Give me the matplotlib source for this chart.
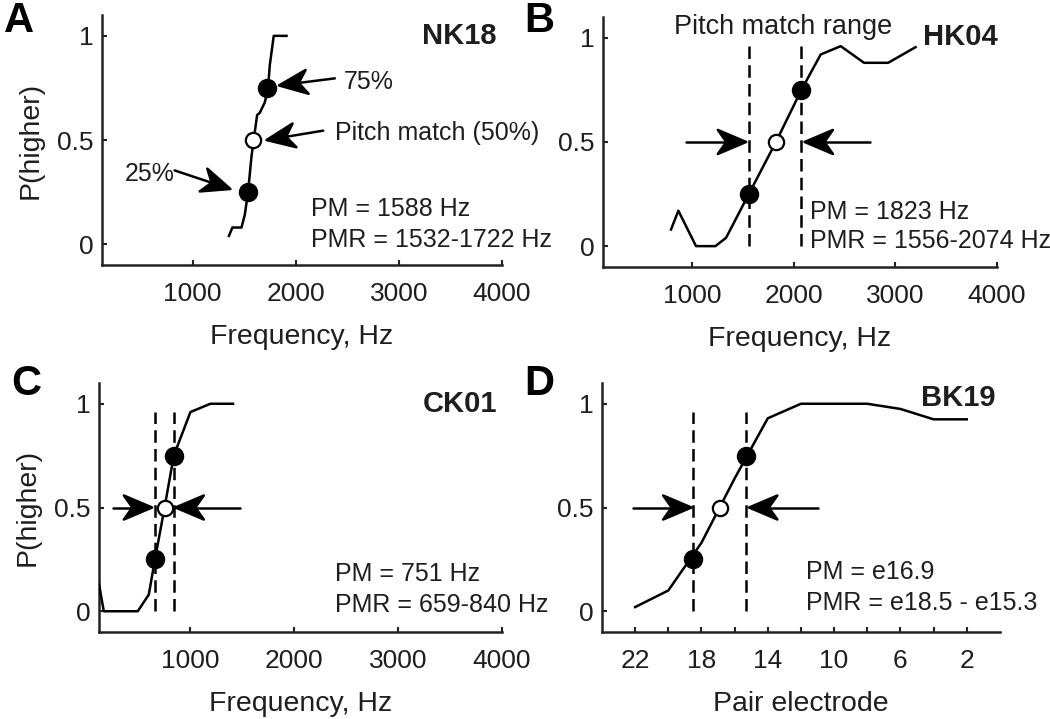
import math
import matplotlib
matplotlib.use("Agg")
import matplotlib.pyplot as plt
from matplotlib.patches import ArrowStyle
from matplotlib.path import Path

plt.rcParams['font.family'] = ['Liberation Sans', 'DejaVu Sans']
plt.rcParams['font.size'] = 18

# ---------------- data ----------------
# Panel A: NK18
a_freq = [1352, 1385, 1473, 1505, 1537, 1570, 1592, 1625, 1650, 1699, 1731, 1748, 1786, 1910]
a_p = [0.04, 0.08, 0.08, 0.14, 0.25, 0.42, 0.50, 0.62, 0.63, 0.68, 0.75, 0.86, 1.00, 1.00]
a_pm = 1588
a_pmr = [1532, 1722]

# Panel B: HK04
b_freq = [790, 862, 1036, 1227, 1332, 1556, 1823, 2074, 2264, 2461, 2691, 2928, 3198]
b_p = [0.08, 0.17, 0.00, 0.00, 0.04, 0.25, 0.50, 0.75, 0.92, 0.96, 0.88, 0.88, 0.955]
b_pm = 1823
b_pmr = [1556, 2074]

# Panel C: CK01
c_freq = [120, 166, 493, 599, 659, 751, 840, 1000, 1192, 1410]
c_p = [0.13, 0.00, 0.00, 0.08, 0.25, 0.50, 0.75, 0.96, 1.00, 1.00]
c_pm = 751
c_pmr = [659, 840]

# Panel D: BK19
d_elec = [22, 20, 18, 16, 14, 12, 10, 8, 6, 4, 2]
d_p = [0.02, 0.10, 0.33, 0.64, 0.93, 1.00, 1.00, 1.00, 0.975, 0.925, 0.925]
d_pm = 16.9
d_pmr = [18.5, 15.3]

freq_ticks = [1000, 2000, 3000, 4000]
elec_ticks = [22, 20, 18, 16, 14, 12, 10, 8, 6, 4, 2]
elec_labels = ['22', '', '18', '', '14', '', '10', '', '6', '', '2']
p_ticks = [0, 0.5, 1]
p_labels = ['0', '0.5', '1']

# ---------------- figure ----------------
fig = plt.figure(figsize=(10.5, 7.19), dpi=100)
TXT = '#1e1e1e'
FS_TXT = 18
FS_TICK = 19
FS_LAB = 20.5
FS_ID = 21

positions = {
    'A': [0.0971, 0.6314, 0.3810, 0.3477],
    'B': [0.5743, 0.6287, 0.3752, 0.3477],
    'C': [0.0943, 0.1210, 0.3838, 0.3463],
    'D': [0.5733, 0.1210, 0.3790, 0.3463],
}


class Stealth(ArrowStyle._Base):
    """Line with a filled, notched ('stealth') arrow head at the end."""

    def __init__(self, head_length=0.85, head_width=0.36, notch=0.3):
        self.head_length = head_length
        self.head_width = head_width
        self.notch = notch
        super().__init__()

    def transmute(self, path, mutation_size, linewidth):
        v = path.vertices
        x0, y0 = v[0]
        x1, y1 = v[-1]
        L = math.hypot(x1 - x0, y1 - y0) or 1.0
        ux, uy = (x1 - x0) / L, (y1 - y0) / L
        px, py = -uy, ux
        hl = self.head_length * mutation_size
        hw = self.head_width * mutation_size
        bx, by = x1 - ux * hl, y1 - uy * hl
        nx, ny = x1 - ux * hl * (1 - self.notch), y1 - uy * hl * (1 - self.notch)
        shaft = Path([(x0, y0), (nx, ny)])
        head = Path([(x1, y1), (bx + px * hw, by + py * hw), (nx, ny),
                     (bx - px * hw, by - py * hw), (x1, y1)], closed=True)
        return [shaft, head], [False, True]


astyle = Stealth()


def arrow(ax, tip, tail):
    ax.annotate('', xy=tip, xytext=tail,
                arrowprops=dict(arrowstyle=astyle, mutation_scale=24,
                                lw=1.8, color='k', shrinkA=0, shrinkB=0))


def style_axes(ax, ylabel=True):
    for s in ['top', 'right']:
        ax.spines[s].set_visible(False)
    for s in ['left', 'bottom']:
        ax.spines[s].set_linewidth(1.8)
        ax.spines[s].set_color('#222222')
    ax.set_ylim(-0.1, 1.1)
    ax.set_yticks(p_ticks)
    ax.set_yticklabels(p_labels)
    ax.tick_params(direction='in', length=3.5, width=1.5, colors='#222222',
                   labelsize=FS_TICK, labelcolor=TXT)
    ax.tick_params(axis='x', pad=12)
    ax.tick_params(axis='y', pad=6)
    if ylabel:
        ax.set_ylabel('P(higher)', fontsize=FS_LAB, color=TXT, labelpad=10)


def draw_curve(ax, x, p, pm, pmr):
    ax.plot(x, p, color='k', lw=1.8, zorder=3)
    ax.plot(pmr, [0.25, 0.75], 'o', color='k', ms=13, zorder=4)
    ax.plot([pm], [0.5], 'o', mfc='white', mec='k', mew=1.6, ms=11, zorder=4)


def dashed(ax, xs):
    for xv in xs:
        ax.plot([xv, xv], [0, 0.96], color='k', lw=1.8,
                linestyle=(0, (5, 2.5)), zorder=2)


# ---- A ----
axA = fig.add_axes(positions['A'])
style_axes(axA)
axA.set_xlim(120, 4000)
axA.set_xticks(freq_ticks)
axA.set_xlabel('Frequency, Hz', fontsize=FS_LAB, color=TXT, labelpad=13)
draw_curve(axA, a_freq, a_p, a_pm, a_pmr)
arrow(axA, (1837, 0.762), (2379, 0.796))
axA.text(2466, 0.78, '75%', fontsize=FS_TXT, color=TXT, va='center', ha='left')
arrow(axA, (1716, 0.50), (2266, 0.545))
axA.text(2379, 0.535, 'Pitch match (50%)', fontsize=FS_TXT, color=TXT,
         va='center', ha='left')
arrow(axA, (1366, 0.265), (825, 0.354))
axA.text(340, 0.338, '25%', fontsize=FS_TXT, color=TXT, va='center', ha='left')
axA.text(3950, 1.0, 'NK18', fontsize=FS_ID, fontweight='bold', color=TXT,
         va='center', ha='right')
axA.text(2150, 0.168, 'PM = 1588 Hz', fontsize=FS_TXT, color=TXT, va='center', ha='left')
axA.text(2150, 0.018, 'PMR = 1532-1722 Hz', fontsize=FS_TXT, color=TXT,
         va='center', ha='left')

# ---- B ----
axB = fig.add_axes(positions['B'])
style_axes(axB, ylabel=False)
axB.set_xlim(120, 4000)
axB.set_xticks(freq_ticks)
axB.set_xlabel('Frequency, Hz', fontsize=FS_LAB, color=TXT, labelpad=13)
dashed(axB, b_pmr)
draw_curve(axB, b_freq, b_p, b_pm, b_pmr)
arrow(axB, (1530, 0.5), (938, 0.5))
arrow(axB, (2105, 0.5), (2747, 0.5))
axB.text(1898, 1.05, 'Pitch match range', fontsize=19.5, color=TXT,
         va='center', ha='center')
axB.text(4010, 1.006, 'HK04', fontsize=FS_ID, fontweight='bold', color=TXT,
         va='center', ha='right')
axB.text(2155, 0.166, 'PM = 1823 Hz', fontsize=FS_TXT, color=TXT, va='center', ha='left')
axB.text(2155, 0.024, 'PMR = 1556-2074 Hz', fontsize=FS_TXT, color=TXT,
         va='center', ha='left')

# ---- C ----
axC = fig.add_axes(positions['C'])
style_axes(axC)
axC.set_xlim(120, 4000)
axC.set_xticks(freq_ticks)
axC.set_xlabel('Frequency, Hz', fontsize=FS_LAB, color=TXT, labelpad=13)
dashed(axC, c_pmr)
draw_curve(axC, c_freq, c_p, c_pm, c_pmr)
arrow(axC, (632, 0.5), (253, 0.5))
arrow(axC, (856, 0.5), (1474, 0.5))
axC.text(3952, 1.0, 'CK01', fontsize=FS_ID, fontweight='bold', color=TXT,
         va='center', ha='right')
axC.text(2388, 0.18, 'PM = 751 Hz', fontsize=FS_TXT, color=TXT, va='center', ha='left')
axC.text(2388, 0.032, 'PMR = 659-840 Hz', fontsize=FS_TXT, color=TXT,
         va='center', ha='left')

# ---- D ----
axD = fig.add_axes(positions['D'])
style_axes(axD, ylabel=False)
axD.set_xlim(24, 0)
axD.set_xticks(elec_ticks)
axD.set_xticklabels(elec_labels)
axD.set_xlabel('Pair electrode', fontsize=FS_LAB, color=TXT, labelpad=13)
dashed(axD, d_pmr)
draw_curve(axD, d_elec, d_p, d_pm, d_pmr)
arrow(axD, (18.6, 0.5), (22.1, 0.5))
arrow(axD, (15.13, 0.5), (11.0, 0.5))
axD.text(0.28, 1.026, 'BK19', fontsize=FS_ID, fontweight='bold', color=TXT,
         va='center', ha='right')
axD.text(11.69, 0.19, 'PM = e16.9', fontsize=FS_TXT, color=TXT, va='center', ha='left')
axD.text(11.69, 0.04, 'PMR = e18.5 - e15.3', fontsize=FS_TXT, color=TXT,
         va='center', ha='left')

# panel letters
for letter, (x, y) in {'A': (4, 32), 'B': (524, 32), 'C': (11, 395), 'D': (524, 395)}.items():
    fig.text(x / 1050, 1 - y / 719, letter, fontsize=30, fontweight='bold',
             color='k', ha='left', va='baseline')

fig.savefig('out.png', dpi=100)
